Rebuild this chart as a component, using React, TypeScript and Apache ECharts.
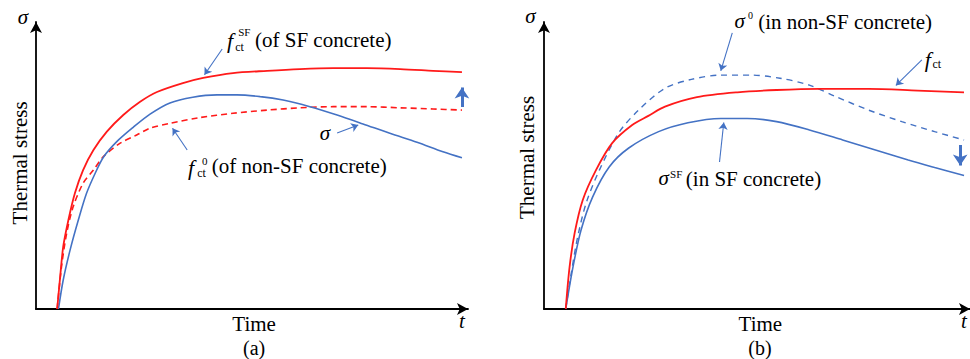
import React, { useEffect, useRef } from "react";
import * as echarts from "echarts";

// Schematic units: time 0–100 (x), thermal stress 0–100 (y)
// Panel (a)
const fctSF_a: number[][] = [
  [4.9, 0], [5.6, 11.3], [6.3, 21.7], [7.5, 31.0], [9.0, 40.3], [10.9, 48.4], [13.3, 55.4],
  [16.4, 61.8], [20.2, 67.6], [24.1, 72.2], [28.0, 75.6], [34.0, 78.7], [38.7, 80.5], [45.6, 82.2],
  [53.5, 83.0], [61.1, 83.6], [68.8, 83.9], [76.6, 83.9], [84.3, 83.6], [91.9, 83.0], [98.6, 82.5],
];
const sigma_a: number[][] = [
  [5.2, 0], [6.3, 10.1], [7.9, 20.6], [9.8, 31.0], [11.7, 40.3], [13.7, 47.3], [15.6, 52.9],
  [18.7, 58.3], [22.5, 63.3], [26.4, 67.9], [31.0, 71.8], [36.3, 73.8], [41.9, 74.6], [46.5, 74.6],
  [51.9, 74.0], [57.2, 72.8], [63.4, 70.5], [69.7, 67.6], [75.7, 64.5], [81.9, 61.2], [88.2, 58.1],
  [94.2, 54.8], [98.6, 52.7],
];
const fct0_a: number[][] = [
  [4.9, 0], [5.9, 14.7], [7.1, 26.4], [8.6, 35.6], [10.9, 43.8], [13.3, 48.4], [15.6, 53.1],
  [19.4, 57.7], [23.3, 60.6], [26.4, 63.0], [31.0, 64.7], [38.0, 66.7], [45.6, 68.2], [53.5, 69.3],
  [61.1, 70.1], [68.8, 70.5], [76.6, 70.5], [84.3, 70.1], [91.9, 69.7], [98.6, 69.3],
];
// Panel (b)
const fct_b: number[][] = [
  [5.1, 0], [6.0, 14.6], [7.2, 26.5], [9.1, 38.0], [12.2, 48.4], [16.0, 57.8], [20.7, 64.1],
  [24.5, 67.3], [28.4, 70.5], [35.9, 73.8], [45.4, 75.5], [54.6, 76.3], [64.6, 76.7], [76.2, 76.7],
  [87.7, 76.1], [98.6, 75.5],
];
const sigma0_b: number[][] = [
  [5.1, 0], [6.4, 12.5], [7.9, 25.1], [9.9, 36.9], [13.0, 48.4], [17.6, 61.5], [22.2, 69.3],
  [28.4, 76.9], [34.6, 80.0], [41.5, 81.5], [48.5, 81.5], [55.4, 80.4], [62.3, 78.0], [68.5, 74.0],
  [76.2, 69.3], [84.0, 65.3], [91.7, 61.8], [98.6, 58.9],
];
const sigmaSF_b: number[][] = [
  [5.1, 0], [6.8, 14.6], [8.7, 27.5], [11.4, 39.0], [15.3, 49.5], [19.9, 56.1], [26.9, 61.8],
  [33.8, 64.9], [41.5, 66.4], [47.7, 66.4], [54.6, 65.3], [62.3, 62.4], [70.1, 58.9], [77.8, 55.4],
  [85.5, 51.9], [91.7, 49.3], [98.6, 46.5],
];

// Leader lines [from, to]
const leadersA: number[][][] = [
  [[43.1, 90.6], [39.0, 81.6]],
  [[69.7, 61.3], [74.6, 64.1]],
  [[35.0, 55.4], [31.6, 63.0]],
];
const leadersB: number[][][] = [
  [[44.2, 96.2], [41.5, 83.0]],
  [[88.7, 86.8], [82.6, 77.9]],
  [[41.2, 51.2], [42.2, 65.0]],
];
// Thick shift arrows (strength rises in (a), stress falls in (b))
const shiftA: number[][] = [[98.6, 70.4], [98.6, 77.2]];
const shiftB: number[][] = [[97.7, 57.1], [97.7, 50.0]];

type Piece = { g: number; x: number; y: number; text: string; size: number; italic?: boolean; align?: string; rotate?: boolean };
const labels: Piece[] = [
  // panel (a)
  { g: 0, x: -3.0, y: 101.6, text: "σ", size: 21, italic: true, align: "center" },
  { g: 0, x: -3.8, y: 50.9, text: "Thermal stress", size: 21, align: "center", rotate: true },
  { g: 0, x: 50.5, y: -5.4, text: "Time", size: 21, align: "center" },
  { g: 0, x: 98.6, y: -4.2, text: "t", size: 21, italic: true, align: "center" },
  { g: 0, x: 50.5, y: -13.5, text: "(a)", size: 20, align: "center" },
  { g: 0, x: 44.2, y: 93.4, text: "f", size: 22, italic: true },
  { g: 0, x: 46.8, y: 96.4, text: "SF", size: 11 },
  { g: 0, x: 46.1, y: 91.4, text: "ct", size: 12 },
  { g: 0, x: 50.7, y: 93.7, text: "(of SF concrete)", size: 21 },
  { g: 0, x: 66.9, y: 61.3, text: "σ", size: 21, italic: true, align: "center" },
  { g: 0, x: 35.2, y: 49.2, text: "f", size: 22, italic: true },
  { g: 0, x: 38.4, y: 51.6, text: "0", size: 11 },
  { g: 0, x: 37.3, y: 47.3, text: "ct", size: 12 },
  { g: 0, x: 40.7, y: 49.8, text: "(of non-SF concrete)", size: 21 },
  // panel (b)
  { g: 1, x: -3.2, y: 102.1, text: "σ", size: 21, italic: true, align: "center" },
  { g: 1, x: -4.05, y: 52.8, text: "Thermal stress", size: 21, align: "center", rotate: true },
  { g: 1, x: 50.8, y: -5.4, text: "Time", size: 21, align: "center" },
  { g: 1, x: 98.6, y: -4.2, text: "t", size: 21, italic: true, align: "center" },
  { g: 1, x: 50.7, y: -13.5, text: "(b)", size: 20, align: "center" },
  { g: 1, x: 44.7, y: 100.4, text: "σ", size: 21, italic: true },
  { g: 1, x: 47.9, y: 102.3, text: "0", size: 10 },
  { g: 1, x: 50.3, y: 100.0, text: "(in non-SF concrete)", size: 21 },
  { g: 1, x: 89.4, y: 87.1, text: "f", size: 22, italic: true },
  { g: 1, x: 91.2, y: 85.4, text: "ct", size: 12 },
  { g: 1, x: 26.9, y: 45.7, text: "σ", size: 21, italic: true },
  { g: 1, x: 29.6, y: 46.9, text: "SF", size: 11 },
  { g: 1, x: 33.3, y: 45.3, text: "(in SF concrete)", size: 21 },
];

const RED = "#FF1A1A";
const BLUE = "#4472C4";
const SERIF = "Liberation Serif, Times New Roman, serif";

export default function App() {
  const ref = useRef<HTMLDivElement>(null);
  useEffect(() => {
    document.body.style.margin = "0";
    const chart = echarts.init(ref.current!, undefined, { renderer: "svg" });
    const axisLine = {
      show: true,
      onZero: false,
      symbol: ["none", "arrow"],
      symbolSize: [9, 11],
      lineStyle: { color: "#000", width: 1.8 },
    };
    const axis = (g: number) => ({
      type: "value",
      gridIndex: g,
      min: 0,
      max: 100,
      axisLine,
      axisTick: { show: false },
      axisLabel: { show: false },
      splitLine: { show: false },
    });
    const curve = (g: number, data: number[][], color: string, width: number, dashed?: number[]) => ({
      type: "line",
      xAxisIndex: g,
      yAxisIndex: g,
      data,
      symbol: "none",
      smooth: 0.3,
      silent: true,
      lineStyle: { color, width, type: dashed ? dashed : "solid" },
    });
    const leaders = (g: number, data: number[][][]) => ({
      type: "lines",
      coordinateSystem: "cartesian2d",
      xAxisIndex: g,
      yAxisIndex: g,
      symbol: ["none", "arrow"],
      symbolSize: [7, 7],
      silent: true,
      lineStyle: { color: BLUE, width: 1.1, opacity: 1, curveness: 0 },
      data: data.map((c) => ({ coords: c })),
    });
    const shift = (g: number, c: number[][]) => ({
      type: "lines",
      coordinateSystem: "cartesian2d",
      xAxisIndex: g,
      yAxisIndex: g,
      symbol: ["none", "arrow"],
      symbolSize: [12, 11],
      silent: true,
      lineStyle: { color: BLUE, width: 3, opacity: 1 },
      data: [{ coords: c }],
    });
    chart.setOption({
      animation: false,
      backgroundColor: "#fff",
      grid: [
        { left: 36, top: 22, width: 432, height: 287 },
        { left: 544, top: 22, width: 432, height: 287 },
      ],
      xAxis: [axis(0), axis(1)],
      yAxis: [axis(0), axis(1)],
      series: [
        curve(0, fct0_a, RED, 1.6, [6, 4]),
        curve(0, sigma_a, BLUE, 1.6),
        curve(0, fctSF_a, RED, 1.8),
        leaders(0, leadersA),
        shift(0, shiftA),
        curve(1, sigma0_b, BLUE, 1.4, [6, 5]),
        curve(1, sigmaSF_b, BLUE, 1.6),
        curve(1, fct_b, RED, 1.8),
        leaders(1, leadersB),
        shift(1, shiftB),
      ],
    });
    const graphic = labels.map((p) => {
      const pt = chart.convertToPixel({ gridIndex: p.g } as any, [p.x, p.y]) as number[];
      return {
        type: "text",
        x: pt[0],
        y: pt[1],
        rotation: p.rotate ? Math.PI / 2 : 0,
        silent: true,
        style: {
          text: p.text,
          fill: "#000",
          fontSize: p.size,
          fontFamily: SERIF,
          fontStyle: p.italic ? "italic" : "normal",
          lineHeight: p.size,
          align: p.align || "left",
          verticalAlign: "middle",
        },
      };
    });
    chart.setOption({ graphic });
    return () => chart.dispose();
  }, []);
  return <div ref={ref} style={{ width: 970, height: 359 }} />;
}
